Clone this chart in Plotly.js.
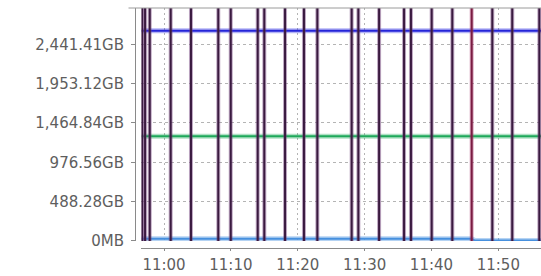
<!DOCTYPE html>
<html>
<head>
<meta charset="utf-8">
<script src="https://cdn.plot.ly/plotly-3.0.1.min.js"></script>
<style>html,body{margin:0;padding:0;background:#fff;}#chart{width:541px;height:276px;}</style>
</head>
<body>
<div id="chart"></div>
<script>
// ---- data ----
const day = '2024-01-01 ';
const rangeStart = '10:56:38';
const rangeEnd = '11:56:23';
const seriesTimes = ['10:56:38', '11:46:00', '11:46:30', '11:56:23'];
const blueValues = [2609, 2609, 2609, 2609];        // GB
const greenValues = [1300, 1300, 1300, 1300];       // GB
const lightBlueValues = [28, 28, 6, 6];             // GB
const spikeTimes = ['10:56:43', '10:57:10', '10:57:52', '11:01:00', '11:04:02', '11:08:07',
  '11:09:59', '11:14:01', '11:15:00', '11:18:06', '11:20:56', '11:22:56', '11:28:04',
  '11:29:04', '11:32:10', '11:35:54', '11:36:56', '11:40:02', '11:43:07', '11:49:06',
  '11:52:05', '11:56:08'];
const spikeTimesRed = ['11:46:01'];
const spikeLow = -100, spikeHigh = 5000;
const yTickVals = [0, 488.28, 976.56, 1464.84, 1953.12, 2441.41];
const yTickText = ['0MB', '488.28GB', '976.56GB', '1,464.84GB', '1,953.12GB', '2,441.41GB'];
const xTickTimes = ['11:00', '11:10', '11:20', '11:30', '11:40', '11:50'];
const yMax = 2892;

// ---- build ----
function t(s){ return day + (s.length === 5 ? s + ':00' : s); }
function spikes(times){
  const x = [], y = [];
  times.forEach(s => { x.push(t(s), t(s), null); y.push(spikeLow, spikeHigh, null); });
  return {x, y};
}
const sp = spikes(spikeTimes);
const spr = spikes(spikeTimesRed);

const traces = [
  {x: seriesTimes.map(t), y: blueValues, mode: 'lines', line: {color: 'rgba(40,40,225,0.35)', width: 5}, hoverinfo: 'skip'},
  {x: seriesTimes.map(t), y: blueValues, mode: 'lines', line: {color: '#2424d8', width: 2}, hoverinfo: 'skip'},
  {x: seriesTimes.map(t), y: greenValues, mode: 'lines', line: {color: 'rgba(30,170,90,0.35)', width: 5}, hoverinfo: 'skip'},
  {x: seriesTimes.map(t), y: greenValues, mode: 'lines', line: {color: '#1ea85a', width: 2}, hoverinfo: 'skip'},
  {x: seriesTimes.map(t), y: lightBlueValues, mode: 'lines', line: {color: 'rgba(70,145,225,0.4)', width: 5}, hoverinfo: 'skip'},
  {x: seriesTimes.map(t), y: lightBlueValues, mode: 'lines', line: {color: '#4690de', width: 2}, hoverinfo: 'skip'},
  {x: sp.x, y: sp.y, mode: 'lines', line: {color: 'rgba(110,60,120,0.45)', width: 4}, hoverinfo: 'skip'},
  {x: sp.x, y: sp.y, mode: 'lines', line: {color: '#3a1a40', width: 2}, hoverinfo: 'skip'},
  {x: spr.x, y: spr.y, mode: 'lines', line: {color: 'rgba(170,60,110,0.45)', width: 4}, hoverinfo: 'skip'},
  {x: spr.x, y: spr.y, mode: 'lines', line: {color: '#7a1c42', width: 2}, hoverinfo: 'skip'}
];

const tickFont = {family: 'DejaVu Sans, sans-serif', size: 15, color: '#5e5e5e'};
const layout = {
  width: 541, height: 276,
  margin: {l: 135, r: 0, t: 8, b: 28, pad: 0},
  paper_bgcolor: '#fff', plot_bgcolor: '#fff',
  showlegend: false,
  xaxis: {
    type: 'date', range: [t(rangeStart), t(rangeEnd)],
    domain: [0.016, 1], anchor: 'free', position: 0,
    tickvals: xTickTimes.map(t), ticktext: xTickTimes,
    showgrid: true, gridcolor: '#b4b4b4', gridwidth: 1, griddash: '2px,3px',
    showline: true, linecolor: '#8a8a8a', linewidth: 1,
    ticks: 'outside', ticklen: 2, tickcolor: '#8a8a8a', ticklabelstandoff: 1,
    tickfont: tickFont, zeroline: false, fixedrange: true
  },
  yaxis: {
    range: [0, yMax], domain: [0.0292, 1], anchor: 'free', position: 0,
    tickvals: yTickVals, ticktext: yTickText,
    showgrid: true, gridcolor: '#b4b4b4', gridwidth: 1, griddash: '3px,3px',
    showline: true, linecolor: '#8a8a8a', linewidth: 1,
    ticks: 'outside', ticklen: 4, tickcolor: '#8a8a8a', ticklabelstandoff: 4,
    tickfont: tickFont, zeroline: false, fixedrange: true
  },
  shapes: [
    {type: 'line', xref: 'paper', yref: 'paper', x0: -0.016, x1: 1, y0: 1, y1: 1,
     line: {color: '#9a9a9a', width: 1}}
  ]
};
Plotly.newPlot('chart', traces, layout, {displayModeBar: false, staticPlot: true});
</script>
</body>
</html>
